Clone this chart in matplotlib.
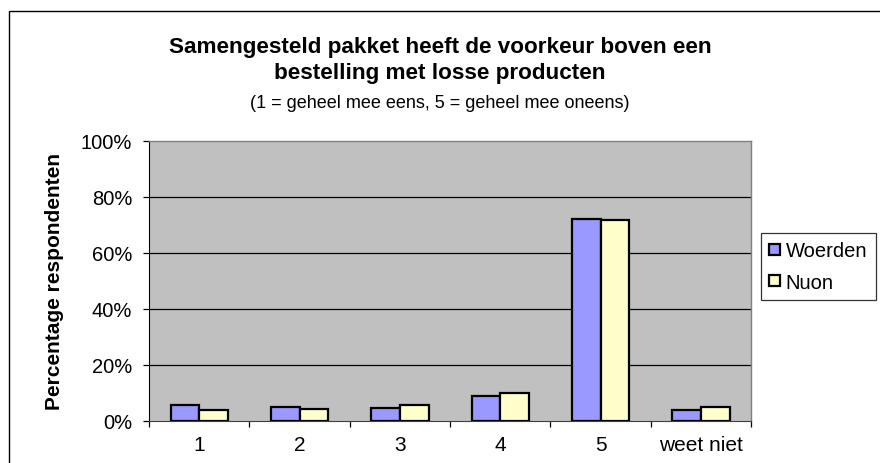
import matplotlib
matplotlib.use("Agg")
import matplotlib.pyplot as plt
import numpy as np
from matplotlib.patches import Rectangle

categories = ["1", "2", "3", "4", "5", "weet niet"]
woerden = [5.6, 4.8, 4.5, 9.0, 72.0, 4.0]
nuon = [3.9, 4.3, 5.6, 9.9, 71.7, 4.8]
yticks = [0, 20, 40, 60, 80, 100]
ytick_labels = ["0%", "20%", "40%", "60%", "80%", "100%"]

plt.rcParams['font.family'] = ['Liberation Sans', 'DejaVu Sans']

fig = plt.figure(figsize=(8.8, 4.64), dpi=100)
fig.patch.set_facecolor("white")

# outer chart frame (cut off at right and bottom)
fig.patches.append(Rectangle((9/880, -0.05), 1.0, (464-12)/464 + 0.05,
                             transform=fig.transFigure, fill=False,
                             edgecolor="black", linewidth=1.0))

ax = fig.add_axes([149/880, (464-421.7)/464, (751-149)/880, (421.7-141.7)/464])
ax.set_facecolor("#C0C0C0")

x = np.arange(len(categories))
w = 1/3.5
ax.bar(x - w/2, woerden, w, color="#9999FF", edgecolor="black", linewidth=1.6, label="Woerden", zorder=3)
ax.bar(x + w/2, nuon, w, color="#FFFFCC", edgecolor="black", linewidth=1.6, label="Nuon", zorder=3)

ax.set_xlim(-0.5, len(categories) - 0.5)
ax.set_ylim(0, 100)
ax.set_yticks(yticks)
ax.set_yticklabels(ytick_labels, fontsize=14.5)
for yv in yticks[1:-1]:
    ax.axhline(yv, color="black", linewidth=0.9, zorder=1)

ax.set_xticks(x)
ax.set_xticklabels(categories, fontsize=15)
ax.set_xticks(np.arange(len(categories) + 1) - 0.5, minor=True)
ax.tick_params(axis="x", which="major", length=0, pad=10)
ax.tick_params(axis="x", which="minor", length=4.5, width=0.9, color="black", direction="out")
ax.tick_params(axis="y", length=4.5, width=0.9, direction="out", pad=7.5)

for s in ["top", "right"]:
    ax.spines[s].set_color("#808080")
    ax.spines[s].set_linewidth(1.0)
ax.spines["left"].set_color("black")
ax.spines["bottom"].set_color("#404040")

fig.text(55/880, (464-281.7)/464, "Percentage respondenten", rotation=90,
         ha="center", va="center", fontsize=15, fontweight="bold")

fig.text(0.5, (464-47)/464, "Samengesteld pakket heeft de voorkeur boven een",
         ha="center", va="center", fontsize=16.2, fontweight="bold")
fig.text(0.5, (464-74)/464, "bestelling met losse producten",
         ha="center", va="center", fontsize=16.2, fontweight="bold")
fig.text(0.5, (464-104)/464, "(1 = geheel mee eens, 5 = geheel mee oneens)",
         ha="center", va="center", fontsize=13)

leg = ax.legend(loc="upper left", bbox_to_anchor=(761/880, (464-234)/464),
                bbox_transform=fig.transFigure, fontsize=14.5, frameon=True,
                fancybox=False, edgecolor="black", handlelength=0.5,
                handleheight=0.5, handletextpad=0.3, borderpad=0.42,
                labelspacing=0.6, borderaxespad=0)
leg.get_frame().set_linewidth(0.9)
for h in leg.legend_handles:
    h.set_linewidth(1.6)

fig.savefig("out.png", dpi=100, facecolor="white")
